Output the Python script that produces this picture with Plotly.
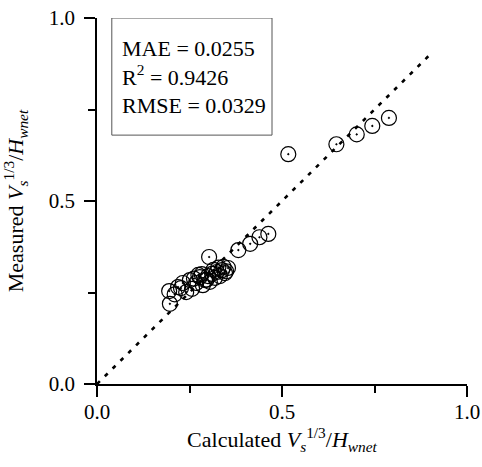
import plotly.graph_objects as go

# Calculated vs measured values
calculated = [0.789, 0.744, 0.702, 0.647, 0.517, 0.463, 0.439, 0.414, 0.382, 0.303,
              0.197, 0.195, 0.219, 0.232, 0.241, 0.251, 0.257, 0.268, 0.278, 0.286,
              0.292, 0.300, 0.305, 0.311, 0.319, 0.324, 0.332, 0.338, 0.346, 0.354,
              0.227, 0.262, 0.283, 0.296, 0.315, 0.328, 0.342, 0.349, 0.21, 0.274]
measured = [0.727, 0.705, 0.682, 0.655, 0.628, 0.410, 0.401, 0.383, 0.366, 0.347,
            0.219, 0.254, 0.265, 0.276, 0.251, 0.284, 0.260, 0.276, 0.292, 0.270,
            0.284, 0.295, 0.279, 0.301, 0.290, 0.306, 0.295, 0.311, 0.303, 0.317,
            0.262, 0.288, 0.300, 0.285, 0.312, 0.318, 0.320, 0.308, 0.245, 0.298]
line_x = [0.0, 0.9]
line_y = [0.0, 0.9]
stats_text = ["MAE = 0.0255", "R<sup>2</sup> = 0.9426", "RMSE = 0.0329"]
tick_vals = [0.0, 0.5, 1.0]
tick_text = ["0.0", "0.5", "1.0"]

FONT = "Liberation Serif, Times New Roman, serif"
QTY = "<i>V</i><sub><i>s</i></sub><sup>1/3</sup>/<i>H</i><sub><i>wnet</i></sub>"

fig = go.Figure()
fig.add_trace(go.Scatter(x=line_x, y=line_y, mode="lines",
                         line=dict(color="black", width=2.6, dash="4px,7px"),
                         showlegend=False, cliponaxis=False))
fig.add_trace(go.Scatter(x=calculated, y=measured, mode="markers",
                         marker=dict(symbol="circle-open-dot", size=15, color="black",
                                     line=dict(width=1.2, color="black")),
                         showlegend=False, cliponaxis=False))

axis_common = dict(range=[0, 1], tickvals=tick_vals, ticktext=tick_text,
                   ticks="outside", ticklen=11, tickwidth=1.5, tickcolor="black",
                   showline=True, linecolor="black", linewidth=1.5,
                   showgrid=False, zeroline=False, automargin=False,
                   tickfont=dict(family=FONT, size=21, color="black"),
                   minor=dict(tickvals=[0.25, 0.75], ticks="outside", ticklen=7,
                              tickwidth=1.5, tickcolor="black"))

fig.update_xaxes(**axis_common, ticklabelstandoff=-3,
                 title=dict(text="Calculated " + QTY,
                            font=dict(family=FONT, size=22, color="black"), standoff=0))
fig.update_yaxes(**axis_common, ticklabelstandoff=5,
                 title=dict(text="Measured " + QTY,
                            font=dict(family=FONT, size=22, color="black"), standoff=21))

fig.add_shape(type="rect", xref="x", yref="y", x0=0.04, x1=0.473, y0=0.68, y1=1.0,
              line=dict(color="#555555", width=1))
fig.add_annotation(xref="x", yref="y", x=0.063, y=0.84, xanchor="left", yanchor="middle",
                   align="left", showarrow=False, text="<br>".join(stats_text),
                   font=dict(family=FONT, size=22, color="black"))

fig.update_layout(width=482, height=467, margin=dict(l=97, r=15, t=18, b=83),
                  plot_bgcolor="white", paper_bgcolor="white")
fig.write_html("out.html", config={"displayModeBar": False},
               post_script="document.body.style.margin='0';document.body.style.overflow='hidden';")
